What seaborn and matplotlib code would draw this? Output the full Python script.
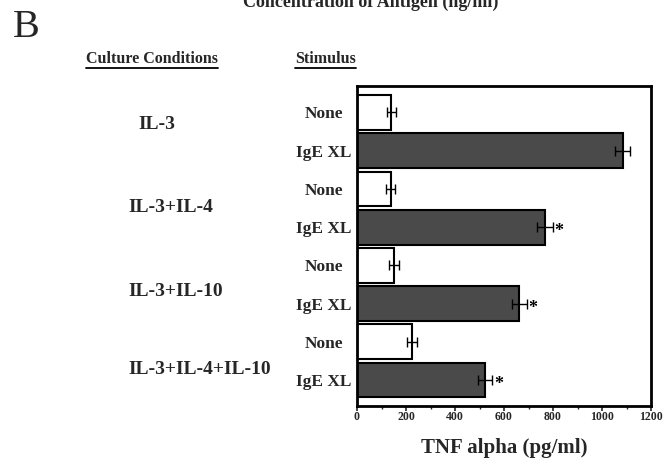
import matplotlib
matplotlib.use("Agg")
import matplotlib.pyplot as plt
import seaborn as sns
import pandas as pd
from matplotlib.lines import Line2D

# ---- data ----
conditions = ["IL-3", "IL-3+IL-4", "IL-3+IL-10", "IL-3+IL-4+IL-10"]
stimuli = ["None", "IgE XL"]
tnf_none = [140, 137, 152, 226]
tnf_ige = [1085, 766, 662, 524]
err_none = [18, 18, 20, 20]
err_ige = [30, 32, 30, 29]
significant = [False, True, True, True]
x_ticks = [0, 200, 400, 600, 800, 1000, 1200]

rows = []
for c, vn, en, vi, ei, s in zip(conditions, tnf_none, err_none, tnf_ige, err_ige, significant):
    rows.append({"bar": f"{c} | None", "cond": c, "stim": "None", "tnf": vn, "err": en, "sig": False})
    rows.append({"bar": f"{c} | IgE XL", "cond": c, "stim": "IgE XL", "tnf": vi, "err": ei, "sig": s})
df = pd.DataFrame(rows)

sns.set_style("white")
plt.rcParams["font.family"] = ["Liberation Serif", "DejaVu Serif"]
plt.rcParams["font.weight"] = "bold"

W, H = 664, 459
fig = plt.figure(figsize=(W / 100, H / 100), dpi=100)
ax = fig.add_axes([357 / W, 1 - 406 / H, (651 - 357) / W, (406 - 85.7) / H])

sns.barplot(data=df, x="tnf", y="bar", hue="stim", order=list(df["bar"]),
            palette={"None": "white", "IgE XL": "#4a4a4a"}, dodge=False,
            width=0.91, edgecolor="black", linewidth=1.5, legend=False, ax=ax,
            orient="h")

positions = list(range(len(df)))
ax.errorbar(df["tnf"], positions, xerr=df["err"], fmt="none", ecolor="black",
            elinewidth=1.0, capsize=3.5, capthick=1.0)
for p, (v, e, s) in enumerate(zip(df["tnf"], df["err"], df["sig"])):
    if s:
        ax.text(v + e + 6, p + 0.12, "*", ha="left", va="center", fontsize=13,
                fontweight="bold", color="black")

ax.set_xlim(0, 1200)
ax.set_ylim(7.68, -0.70)
ax.set_xticks(x_ticks)
ax.set_xticklabels([str(t) for t in x_ticks], fontsize=8.5, fontweight="bold")
ax.set_xticks(range(100, 1200, 200), minor=True)
ax.tick_params(axis="x", which="major", direction="out", length=3.5, width=1.2, pad=0, bottom=True)
ax.tick_params(axis="x", which="minor", direction="out", length=2.5, width=1.0, bottom=True)
ax.set_yticks(positions)
ax.set_yticklabels(list(df["stim"]), fontsize=12.5, fontweight="bold")
ax.tick_params(axis="y", length=0, pad=24)
for lab in ax.get_yticklabels():
    lab.set_horizontalalignment("center")
ax.set_ylabel("")
ax.set_xlabel("TNF alpha (pg/ml)", fontsize=15, fontweight="bold", labelpad=11)
for sp in ax.spines.values():
    sp.set_visible(True)
    sp.set_color("black")
    sp.set_linewidth(2.0)

def fy(y):
    return 1 - y / H

# panel letter and (partly cropped) top title
fig.text(13 / W, fy(37), "B", fontsize=29, fontweight="normal", ha="left", va="baseline")
fig.text(243 / W, fy(7), "Concentration of Antigen (ng/ml)", fontsize=13,
         fontweight="bold", ha="left", va="baseline")

# headers (underlined)
hdrs = []
hdrs.append(fig.text(86 / W, fy(59), "Culture Conditions", fontsize=11.5, fontweight="bold",
                     ha="left", va="center"))
hdrs.append(fig.text(295 / W, fy(59), "Stimulus", fontsize=11.5, fontweight="bold",
                     ha="left", va="center"))

# group labels
group_pos = [(138, 124), (128, 208), (128, 291), (128, 369)]
for c, (gx, gy) in zip(conditions, group_pos):
    fig.text(gx / W, fy(gy), c, fontsize=14, fontweight="bold", ha="left", va="center")

fig.canvas.draw()
r = fig.canvas.get_renderer()
for t in hdrs:
    bb = t.get_window_extent(renderer=r)
    fig.add_artist(Line2D([bb.x0 / W, bb.x1 / W], [fy(68), fy(68)],
                          transform=fig.transFigure, color="black", linewidth=1.3))

fig.savefig("out.png", dpi=100)
